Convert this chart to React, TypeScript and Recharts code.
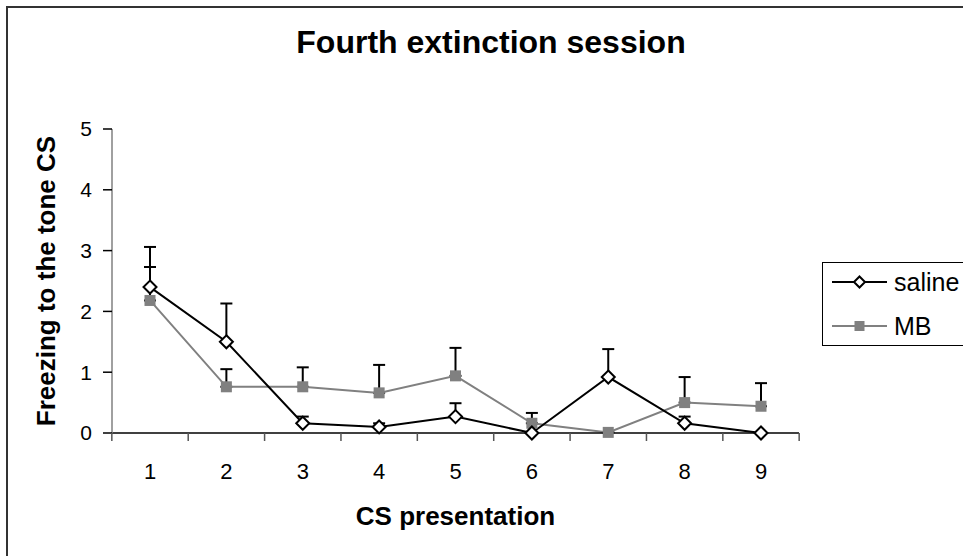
import { LineChart, Line, XAxis, YAxis, ErrorBar, Legend, Label } from 'recharts';

const FONT = '"Liberation Sans", Arial, sans-serif';

// CS presentation number
const CS = ['1', '2', '3', '4', '5', '6', '7', '8', '9'];

// mean freezing and SEM (only drawn upwards)
const SALINE = [2.4, 1.5, 0.16, 0.1, 0.27, 0.0, 0.92, 0.16, 0.0];
const SALINE_SEM = [0.66, 0.63, 0.11, 0.06, 0.22, 0, 0.46, 0.11, 0];
const MB = [2.18, 0.76, 0.76, 0.66, 0.94, 0.16, 0.01, 0.5, 0.44];
const MB_SEM = [0.55, 0.29, 0.32, 0.46, 0.46, 0.17, 0, 0.42, 0.38];

const Y_TICKS = [0, 1, 2, 3, 4, 5];

const data = CS.map((cs, i) => ({
  cs,
  saline: SALINE[i],
  salineErr: [0, SALINE_SEM[i]],
  mb: MB[i],
  mbErr: [0, MB_SEM[i]],
}));

// plot is 687px wide, 9 categories -> half a category
const HALF_BAND = 687 / 18;

// label in the middle of the category, tick marks between categories (excel style)
const CsTick = ({ x, y, payload, index }: any) => (
  <g>
    <line x1={x - HALF_BAND} y1={y} x2={x - HALF_BAND} y2={y + 8} stroke="#555" strokeWidth={1.5} />
    {index === CS.length - 1 && (
      <line x1={x + HALF_BAND} y1={y} x2={x + HALF_BAND} y2={y + 8} stroke="#555" strokeWidth={1.5} />
    )}
    <text x={x} y={y + 30} dy="0.71em" textAnchor="middle" fontSize={22} fill="#000">
      {payload.value}
    </text>
  </g>
);

const Diamond = ({ cx, cy, index }: any) => (
  <path
    key={`s-${index}`}
    d={`M${cx},${cy - 6.5}L${cx + 6.5},${cy}L${cx},${cy + 6.5}L${cx - 6.5},${cy}Z`}
    fill="#fff"
    stroke="#000"
    strokeWidth={2}
  />
);

const Square = ({ cx, cy, index }: any) => (
  <rect key={`m-${index}`} x={cx - 5.5} y={cy - 5.5} width={11} height={11} fill="#808080" />
);

const LegendBox = () => (
  <div
    style={{
      position: 'relative',
      width: 170,
      height: 84,
      border: '1.5px solid #000',
      boxSizing: 'border-box',
      background: '#fff',
      fontFamily: FONT,
      fontSize: 25,
      color: '#000',
    }}
  >
    {[
      { name: 'saline', color: '#000' },
      { name: 'MB', color: '#808080' },
    ].map((s, i) => (
      <div
        key={s.name}
        style={{ position: 'absolute', left: 8, top: 5 + i * 44, height: 28, display: 'flex', alignItems: 'center' }}
      >
        <svg width={58} height={20} style={{ marginRight: 5 }}>
          <line x1={1} y1={10} x2={56} y2={10} stroke={s.color} strokeWidth={2} />
          {i === 0 ? (
            <path d="M28.5,4.5L34,10L28.5,15.5L23,10Z" fill="#fff" stroke="#000" strokeWidth={2} />
          ) : (
            <rect x={23.5} y={5} width={10} height={10} fill="#808080" />
          )}
        </svg>
        <span style={{ lineHeight: '28px' }}>{s.name}</span>
      </div>
    ))}
  </div>
);

export default function App() {
  return (
    <div style={{ position: 'fixed', left: 0, top: 0, width: 963, height: 556, overflow: 'hidden', background: '#fff' }}>
      <div
        style={{
          position: 'absolute',
          left: 6,
          top: 6,
          width: 1000,
          height: 600,
          border: '2px solid #333',
        }}
      />
      <div
        style={{
          position: 'absolute',
          left: 0,
          top: 26,
          width: 982,
          textAlign: 'center',
          fontFamily: FONT,
          fontWeight: 'bold',
          fontSize: 32,
          lineHeight: '32px',
          color: '#000',
        }}
      >
        Fourth extinction session
      </div>
      <div style={{ position: 'absolute', left: 0, top: 0 }}>
        <LineChart
          width={963}
          height={556}
          data={data}
          margin={{ top: 129, right: 164, bottom: 122, left: 8 }}
          style={{ fontFamily: FONT }}
        >
          <XAxis
            dataKey="cs"
            height={1}
            interval={0}
            padding={{ left: 38, right: 38 }}
            tickLine={false}
            tickSize={0}
            tickMargin={0}
            axisLine={{ stroke: '#000', strokeWidth: 1.5 }}
            tick={<CsTick />}
          >
            <Label
              value="CS presentation"
              position="bottom"
              offset={73}
              style={{ fontWeight: 'bold', fontSize: 26, fill: '#000' }}
            />
          </XAxis>
          <YAxis
            domain={[0, 5]}
            ticks={Y_TICKS}
            width={104}
            tickSize={9}
            tickMargin={11}
            axisLine={{ stroke: '#808080', strokeWidth: 1.5 }}
            tickLine={{ stroke: '#000', strokeWidth: 1.5 }}
            tick={{ fill: '#000', fontSize: 21 }}
          >
            <Label
              value="Freezing to the tone CS"
              angle={-90}
              position="insideLeft"
              offset={38}
              style={{ textAnchor: 'middle', fontWeight: 'bold', fontSize: 26, fill: '#000' }}
            />
          </YAxis>
          <Legend
            layout="horizontal"
            verticalAlign="middle"
            align="center"
            wrapperStyle={{ left: 822, top: 262, width: 170 }}
            content={LegendBox}
          />
          <Line
            dataKey="mb"
            name="MB"
            stroke="#808080"
            strokeWidth={2}
            dot={Square}
            activeDot={false}
            isAnimationActive={false}
          >
            <ErrorBar dataKey="mbErr" direction="y" width={6} stroke="#000" strokeWidth={2} isAnimationActive={false} />
          </Line>
          <Line
            dataKey="saline"
            name="saline"
            stroke="#000"
            strokeWidth={2}
            dot={Diamond}
            activeDot={false}
            isAnimationActive={false}
          >
            <ErrorBar dataKey="salineErr" direction="y" width={6} stroke="#000" strokeWidth={2} isAnimationActive={false} />
          </Line>
        </LineChart>
      </div>
    </div>
  );
}
